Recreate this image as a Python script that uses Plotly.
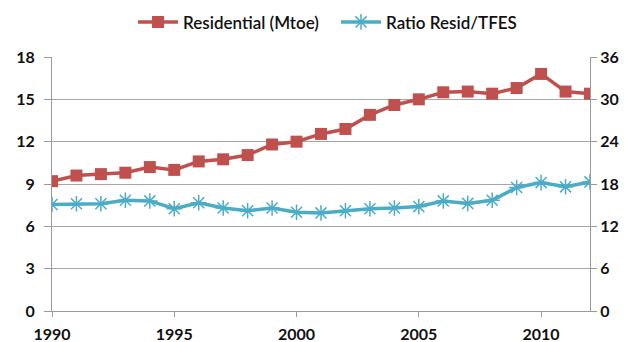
import plotly.graph_objects as go

years = list(range(1990, 2013))
residential = [9.2, 9.6, 9.7, 9.8, 10.2, 10.0, 10.6, 10.75, 11.05, 11.8, 12.0,
               12.55, 12.9, 13.9, 14.6, 15.0, 15.5, 15.55, 15.4, 15.8, 16.8, 15.55, 15.4]
ratio = [15.1, 15.2, 15.2, 15.7, 15.6, 14.5, 15.35, 14.6, 14.2, 14.6, 14.0,
         13.9, 14.2, 14.5, 14.6, 14.8, 15.6, 15.25, 15.7, 17.5, 18.2, 17.6, 18.3]
left_ticks = [0, 3, 6, 9, 12, 15, 18]
right_ticks = [0, 6, 12, 18, 24, 30, 36]
x_ticks = [1990, 1995, 2000, 2005, 2010]

RED = "#C0504D"
BLUE = "#4BACC6"
FONT = "Lato"
TXT = "#111111"

fig = go.Figure()
fig.add_trace(go.Scatter(
    x=years, y=residential, name="Residential (Mtoe)", mode="lines+markers",
    line=dict(color=RED, width=3.5),
    marker=dict(symbol="square", size=12, color=RED),
))
fig.add_trace(go.Scatter(
    x=years, y=ratio, name="Ratio Resid/TFES", mode="lines+markers", yaxis="y2",
    line=dict(color=BLUE, width=3.5),
    marker=dict(symbol="asterisk-open", size=13, color=BLUE, line=dict(color=BLUE, width=1.5)),
))

tf = dict(family=FONT, size=16, color=TXT, weight="bold")

# page body has an 8px default margin, so the figure is sized/offset to compensate
fig.update_layout(
    width=627, height=334,
    margin=dict(l=44, r=45, t=49, b=31),
    paper_bgcolor="white", plot_bgcolor="white",
    font=dict(family=FONT, size=15, color=TXT),
    showlegend=True,
    legend=dict(orientation="h", x=0.1994, xanchor="left", xref="container",
                y=0.957, yanchor="middle", yref="container",
                font=dict(family=FONT, size=17, color=TXT, weight=600),
                itemwidth=40, tracegroupgap=0, entrywidth=148),
    xaxis=dict(range=[1990, 2012], tickvals=x_ticks, ticktext=[str(t) for t in x_ticks],
               automargin=False,
               showgrid=False, zeroline=False, showline=True, linecolor="#9a9a9a", linewidth=1,
               ticks="outside", ticklen=5, tickcolor="#9a9a9a", tickfont=tf,
               ticklabelstandoff=4),
    yaxis=dict(range=[0, 18], tickvals=left_ticks, showgrid=True, gridcolor="#a6a6a6", gridwidth=1,
               automargin=False,
               zeroline=False, showline=True, linecolor="#9a9a9a", linewidth=1,
               ticks="outside", ticklen=7, tickcolor="#9a9a9a", tickfont=tf,
               ticklabelstandoff=6),
    yaxis2=dict(range=[0, 36], tickvals=right_ticks, overlaying="y", side="right",
                automargin=False,
                showgrid=False, zeroline=False, showline=True, linecolor="#9a9a9a", linewidth=1,
                ticks="outside", ticklen=6, tickcolor="#9a9a9a", tickfont=tf),
)

fig.write_html("out.html")
